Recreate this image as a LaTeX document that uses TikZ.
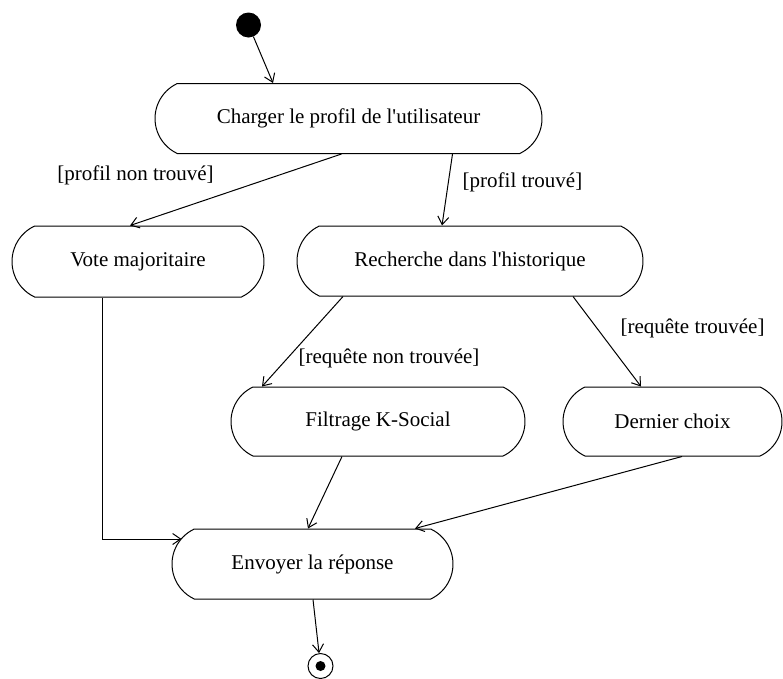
\documentclass[tikz,border=0pt]{standalone}
\usepackage{fontspec}
\newfontfamily\plainserif{Liberation Serif}
\usetikzlibrary{shapes.misc,arrows.meta,calc}
\begin{document}
\begin{tikzpicture}[x=1pt,y=-1pt,
  act/.style={draw,line width=1pt,rounded rectangle,rounded rectangle arc length=130,inner sep=0pt,font=\plainserif\fontsize{21}{25}\selectfont},
  guard/.style={inner sep=0pt,font=\plainserif\fontsize{21}{25}\selectfont},
  flow/.style={line width=1pt,-{Straight Barb[length=8pt,width=11pt]}}]
\useasboundingbox (0,0) rectangle (783,678);
% start / end
\node[circle,fill,minimum size=25pt,inner sep=0pt] (debut) at (248.5,25) {};
\node[circle,draw,line width=1pt,minimum size=25pt,inner sep=0pt] (fin) at (320.5,666) {};
\node[circle,fill,minimum size=10pt,inner sep=0pt] (findot) at (fin) {};
% activities
\node[act,minimum width=387pt,minimum height=70pt] (charger) at (348.5,118.5) {Charger le profil de l'utilisateur};
\node[act,minimum width=252pt,minimum height=71pt] (vote) at (138,261.5) {Vote majoritaire};
\node[act,minimum width=346pt,minimum height=70pt] (recherche) at (470,261) {Recherche dans l'historique};
\node[act,minimum width=294pt,minimum height=69pt] (filtrage) at (378,421.5) {Filtrage K-Social};
\node[act,minimum width=219pt,minimum height=69pt] (dernier) at (672.5,421.5) {Dernier choix};
\node[act,minimum width=281pt,minimum height=70pt] (envoyer) at (312.5,564) {Envoyer la réponse};
% guards
\node[guard] (g1) at (135.5,175) {[profil non trouvé]};
\node[guard] (g2) at (522.5,182) {[profil trouvé]};
\node[guard] (g3) at (389,358) {[requête non trouvée]};
\node[guard] (g4) at (692.5,328) {[requête trouvée]};
% flows
\draw[flow] (debut) -- ([xshift=-75.5pt]charger.north);
\draw[flow] ([xshift=-7pt]charger.south) -- ([xshift=-8pt]vote.north);
\draw[flow] ([xshift=104pt]charger.south) -- ([xshift=-28pt]recherche.north);
\draw[flow] ([xshift=-127pt]recherche.south) -- ([xshift=-116pt]filtrage.north);
\draw[flow] ([xshift=103pt]recherche.south) -- ([xshift=-31.5pt]dernier.north);
\draw[flow] ([xshift=-36pt]vote.south) |- ([shift={(10pt,25pt)}]envoyer.west);
\draw[flow] ([xshift=-36pt]filtrage.south) -- ([xshift=-4.5pt]envoyer.north);
\draw[flow] ([xshift=9.5pt]dernier.south) -- ([xshift=102.5pt]envoyer.north);
\draw[flow] ([xshift=0.5pt]envoyer.south) -- (fin);
\end{tikzpicture}
\end{document}
